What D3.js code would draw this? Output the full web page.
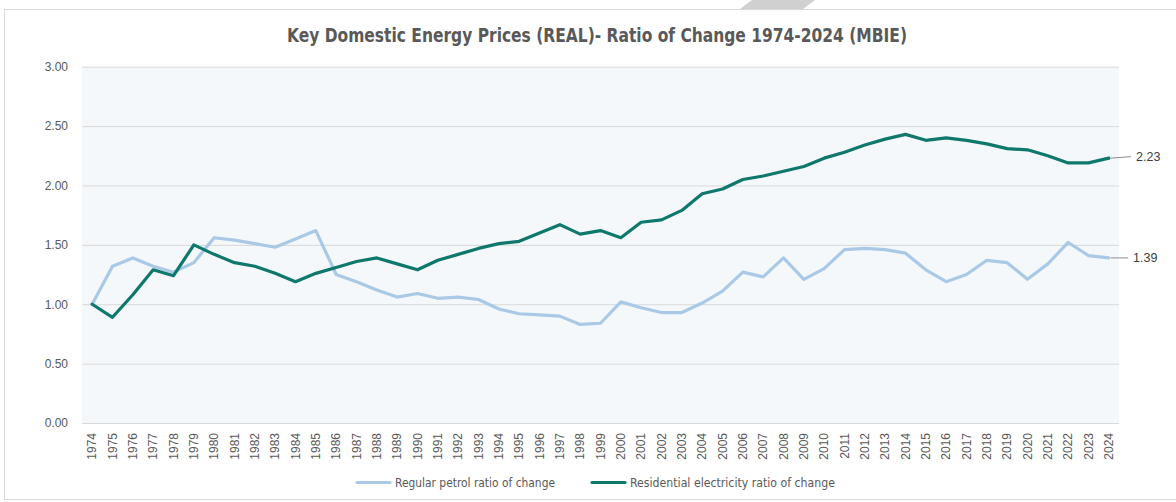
<!DOCTYPE html>
<html>
<head>
<meta charset="utf-8">
<script src="https://cdn.jsdelivr.net/npm/d3@7"></script>
<style>
  html, body { margin: 0; padding: 0; background: #fff; }
  svg { display: block; }
</style>
</head>
<body>
<div id="chart"></div>
<script>
// data
const years = d3.range(1974, 2025).map(String);
const petrol = [
  1.00, 1.32, 1.39, 1.32, 1.27, 1.35, 1.56, 1.54, 1.51, 1.48,
  1.55, 1.62, 1.25, 1.19, 1.12, 1.06, 1.09, 1.05, 1.06, 1.04,
  0.96, 0.92, 0.91, 0.90, 0.83, 0.84, 1.02, 0.97, 0.93, 0.93,
  1.01, 1.11, 1.27, 1.23, 1.39, 1.21, 1.30, 1.46, 1.47, 1.46,
  1.43, 1.29, 1.19, 1.25, 1.37, 1.35, 1.21, 1.34, 1.52, 1.41,
  1.39
];
const electricity = [
  1.00, 0.89, 1.08, 1.29, 1.24, 1.50, 1.42, 1.35, 1.32, 1.26,
  1.19, 1.26, 1.31, 1.36, 1.39, 1.34, 1.29, 1.37, 1.42, 1.47,
  1.51, 1.53, 1.60, 1.67, 1.59, 1.62, 1.56, 1.69, 1.71, 1.79,
  1.93, 1.97, 2.05, 2.08, 2.12, 2.16, 2.23, 2.28, 2.34, 2.39,
  2.43, 2.38, 2.40, 2.38, 2.35, 2.31, 2.30, 2.25, 2.19, 2.19,
  2.23
];
const yTicks = [0, 0.5, 1, 1.5, 2, 2.5, 3];
const seriesNames = ["Regular petrol ratio of change", "Residential electricity  ratio of change"];
const seriesColors = ["#a9c9e6", "#0f786c"];

const width = 1176, height = 502;
const margin = { left: 82, right: 57, top: 66.7, bottom: 79 };

const svg = d3.select("#chart").append("svg")
  .attr("width", width)
  .attr("height", height);

// scrap of grey at top edge
svg.append("polygon")
  .attr("points", "752,0 815,0 803,9 740,9")
  .attr("fill", "#d0d0d0");

// outer frame
svg.append("rect")
  .attr("x", 4.5).attr("y", 9.5)
  .attr("width", width + 10).attr("height", 490)
  .attr("fill", "#fff")
  .attr("stroke", "#d9d9d9");

const x = d3.scaleBand()
  .domain(years)
  .range([margin.left, width - margin.right]);

const y = d3.scaleLinear()
  .domain([0, 3])
  .range([height - margin.bottom, margin.top]);

const cx = d => x(d) + x.bandwidth() / 2;

// plot background
svg.append("rect")
  .attr("x", margin.left)
  .attr("y", margin.top)
  .attr("width", width - margin.right - margin.left)
  .attr("height", y(0) - margin.top)
  .attr("fill", "#f5f8fb");

// gridlines + y labels
const yAxis = svg.append("g")
  .attr("transform", `translate(${margin.left},0)`)
  .call(d3.axisLeft(y).tickValues(yTicks)
    .tickSize(-(width - margin.right - margin.left))
    .tickPadding(14)
    .tickFormat(d3.format(".2f")));
yAxis.select(".domain").remove();
yAxis.selectAll(".tick line").attr("stroke", "#d9d9d9");
yAxis.selectAll(".tick text")
  .attr("fill", "#595959")
  .style("font-family", "'Liberation Sans', Arial, sans-serif")
  .style("font-size", "12px");

// x axis labels
const xAxis = svg.append("g")
  .attr("transform", `translate(0,${y(0)})`)
  .call(d3.axisBottom(x).tickSize(0).tickPadding(0));
xAxis.select(".domain").remove();
xAxis.selectAll(".tick text")
  .attr("fill", "#595959")
  .attr("text-anchor", "end")
  .attr("dy", "0.35em")
  .attr("transform", "translate(0,10) rotate(-90)")
  .attr("x", 0).attr("y", 0)
  .style("font-family", "'Liberation Sans', Arial, sans-serif")
  .style("font-size", "12px");

// title
svg.append("text")
  .attr("x", 597)
  .attr("y", 42)
  .attr("text-anchor", "middle")
  .attr("fill", "#595959")
  .style("font-family", "'Liberation Sans Narrow', 'DejaVu Sans Condensed', sans-serif")
  .style("font-weight", "bold")
  .style("font-size", "19px")
  .attr("textLength", 620)
  .attr("lengthAdjust", "spacingAndGlyphs")
  .text("Key Domestic Energy Prices (REAL)- Ratio of Change 1974-2024 (MBIE)");

const line = d3.line()
  .x((d, i) => cx(years[i]))
  .y(d => y(d));

[petrol, electricity].forEach((vals, k) => {
  svg.append("path")
    .datum(vals)
    .attr("fill", "none")
    .attr("stroke", seriesColors[k])
    .attr("stroke-width", 3.2)
    .attr("stroke-linejoin", "round")
    .attr("stroke-linecap", "round")
    .attr("d", line);
});

// end-value labels with leader lines
const last = years[years.length - 1];
[[electricity, -1.5, 1136], [petrol, 0, 1133]].forEach(([vals, off, lx]) => {
  const v = vals[vals.length - 1];
  svg.append("line")
    .attr("x1", cx(last) + 2).attr("y1", y(v))
    .attr("x2", lx - 5).attr("y2", y(v) + off)
    .attr("stroke", "#8c8c8c")
    .attr("stroke-width", 1);
  svg.append("text")
    .attr("x", lx)
    .attr("y", y(v) + off)
    .attr("dy", "0.35em")
    .attr("fill", "#404040")
    .style("font-family", "'Liberation Sans', Arial, sans-serif")
    .style("font-size", "12.5px")
    .text(d3.format(".2f")(v));
});

// legend
const legendItems = [
  { x: 357, tx: 395, tw: 160 },
  { x: 592, tx: 630, tw: 205 }
];
legendItems.forEach((it, k) => {
  svg.append("line")
    .attr("x1", it.x).attr("x2", it.x + 33)
    .attr("y1", 482.5).attr("y2", 482.5)
    .attr("stroke", seriesColors[k])
    .attr("stroke-width", 3.2)
    .attr("stroke-linecap", "round");
  svg.append("text")
    .attr("x", it.tx)
    .attr("y", 482.5)
    .attr("dy", "0.35em")
    .attr("fill", "#595959")
    .style("font-family", "'Liberation Sans Narrow', 'DejaVu Sans Condensed', sans-serif")
    .style("font-size", "13px")
    .attr("textLength", it.tw)
    .attr("lengthAdjust", "spacingAndGlyphs")
    .text(seriesNames[k]);
});
</script>
</body>
</html>
